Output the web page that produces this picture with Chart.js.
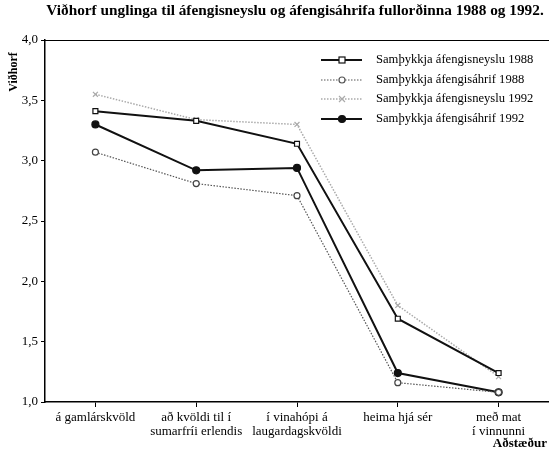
<!DOCTYPE html>
<html>

<head>
    <title>Viðhorf unglinga 1988 og 1992</title>
    <script src="https://cdn.jsdelivr.net/npm/chart.js"></script>
    <style>
        body { margin: 0; background: #fff; }
        #wrap { width: 549px; height: 450px; }
    </style>
</head>

<body>

    <div id="wrap">
        <canvas id="myChart" width="549" height="450"></canvas>
    </div>

    <script>
        const SERIF = '"Liberation Serif", "Times New Roman", serif';

        const chartTitle = 'Viðhorf unglinga til áfengisneyslu og áfengisáhrifa fullorðinna 1988 og 1992.';
        const yTitle = 'Viðhorf';
        const xTitle = 'Aðstæður';

        const categories = [
            'á gamlárskvöld',
            ['að kvöldi til í', 'sumarfríi erlendis'],
            ['í vinahópi á', 'laugardagskvöldi'],
            'heima hjá sér',
            ['með mat', 'í vinnunni']
        ];

        const seriesNames = [
            'Samþykkja áfengisneyslu 1988',
            'Samþykkja áfengisáhrif 1988',
            'Samþykkja áfengisneyslu 1992',
            'Samþykkja áfengisáhrif 1992'
        ];

        const neysla1988 = [3.41, 3.33, 3.14, 1.69, 1.24];
        const ahrif1988 = [3.07, 2.81, 2.71, 1.16, 1.08];
        const neysla1992 = [3.55, 3.34, 3.30, 1.80, 1.21];
        const ahrif1992 = [3.30, 2.92, 2.94, 1.24, 1.08];

        const yTicks = [1.0, 1.5, 2.0, 2.5, 3.0, 3.5, 4.0];

        const styles = [
            { color: '#111', width: 2, dash: [], point: 'rect', fill: '#fff', r: 3.5 },
            { color: '#555', width: 1.2, dash: [1.5, 1.5], point: 'circle', fill: '#fff', r: 3 },
            { color: '#aaa', width: 1.5, dash: [1.5, 1.5], point: 'crossRot', fill: '#aaa', r: 3.5 },
            { color: '#111', width: 2, dash: [], point: 'circle', fill: '#111', r: 3.5 }
        ];

        const values = [neysla1988, ahrif1988, neysla1992, ahrif1992];

        const data = {
            labels: categories,
            datasets: values.map((v, i) => ({
                label: seriesNames[i],
                data: v,
                borderColor: styles[i].color,
                borderWidth: styles[i].width,
                borderDash: styles[i].dash,
                pointStyle: styles[i].point,
                pointRadius: styles[i].r,
                pointBackgroundColor: styles[i].fill,
                pointBorderColor: i === 1 ? '#444' : styles[i].color,
                pointBorderWidth: 1.2,
                tension: 0
            }))
        };

        // title, axis titles, top frame line and legend drawn by hand
        const extras = {
            id: 'extras',
            afterDraw(chart) {
                const ctx = chart.ctx;
                const area = chart.chartArea;
                ctx.save();

                ctx.strokeStyle = '#000';
                ctx.lineWidth = 1;
                ctx.beginPath();
                ctx.moveTo(area.left, area.top + 0.5);
                ctx.lineTo(area.right, area.top + 0.5);
                ctx.stroke();

                ctx.fillStyle = '#000';
                ctx.font = 'bold 15.3px ' + SERIF;
                ctx.textAlign = 'center';
                ctx.textBaseline = 'middle';
                ctx.fillText(chartTitle, 295, 11);

                ctx.save();
                ctx.translate(14, 72);
                ctx.rotate(-Math.PI / 2);
                ctx.font = 'bold 12px ' + SERIF;
                ctx.fillText(yTitle, 0, 0);
                ctx.restore();

                ctx.font = 'bold 13px ' + SERIF;
                ctx.textAlign = 'right';
                ctx.fillText(xTitle, 547, 444);

                const rows = [60, 80, 99, 119];
                ctx.font = '12.6px ' + SERIF;
                ctx.textAlign = 'left';
                rows.forEach((y, i) => {
                    const s = styles[i];
                    ctx.strokeStyle = s.color;
                    ctx.lineWidth = s.width;
                    ctx.setLineDash(s.dash);
                    ctx.beginPath();
                    ctx.moveTo(321, y);
                    ctx.lineTo(362, y);
                    ctx.stroke();
                    ctx.setLineDash([]);
                    ctx.lineWidth = 1.2;
                    ctx.strokeStyle = s.color;
                    ctx.fillStyle = s.fill;
                    const x = 342;
                    if (s.point === 'rect') {
                        ctx.fillRect(x - 3, y - 3, 6, 6);
                        ctx.strokeRect(x - 3, y - 3, 6, 6);
                    } else if (s.point === 'circle') {
                        ctx.beginPath();
                        ctx.arc(x, y, s.r, 0, Math.PI * 2);
                        ctx.fill();
                        ctx.stroke();
                    } else {
                        ctx.beginPath();
                        ctx.moveTo(x - 3, y - 3); ctx.lineTo(x + 3, y + 3);
                        ctx.moveTo(x - 3, y + 3); ctx.lineTo(x + 3, y - 3);
                        ctx.stroke();
                    }
                    ctx.fillStyle = '#000';
                    ctx.fillText(seriesNames[i], 376, y);
                });

                ctx.restore();
            }
        };

        const config = {
            type: 'line',
            data: data,
            plugins: [extras],
            options: {
                responsive: false,
                animation: false,
                layout: { autoPadding: false, padding: { top: 40, left: 0, right: 0, bottom: 0 } },
                plugins: {
                    legend: { display: false },
                    title: { display: false },
                    tooltip: { enabled: false }
                },
                scales: {
                    x: {
                        offset: true,
                        afterFit(scale) { scale.height = 48; },
                        grid: {
                            drawOnChartArea: false,
                            drawTicks: true,
                            tickLength: 5,
                            color: '#000',
                            offset: false
                        },
                        border: { display: true, color: '#000', width: 1.5 },
                        ticks: {
                            color: '#000',
                            font: { family: SERIF, size: 13, lineHeight: 1.08 },
                            padding: 4,
                            maxRotation: 0,
                            autoSkip: false
                        }
                    },
                    y: {
                        min: 1,
                        max: 4,
                        afterFit(scale) { scale.width = 45; },
                        afterBuildTicks(scale) {
                            scale.ticks = yTicks.map(v => ({ value: v }));
                        },
                        grid: {
                            drawOnChartArea: false,
                            drawTicks: true,
                            tickLength: 4,
                            color: '#000'
                        },
                        border: { display: true, color: '#000', width: 1.5 },
                        ticks: {
                            color: '#000',
                            font: { family: SERIF, size: 13 },
                            padding: 3,
                            callback: v => v.toFixed(1).replace('.', ',')
                        }
                    }
                }
            }
        };

        const myChart = new Chart(
            document.getElementById('myChart'),
            config
        );
    </script>

</body>

</html>
